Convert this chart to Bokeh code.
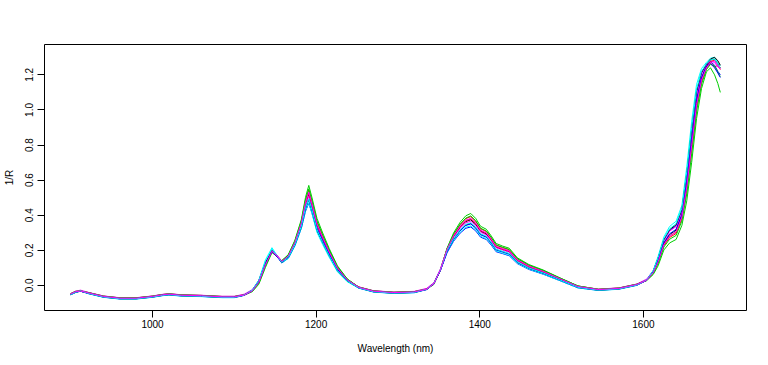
from bokeh.plotting import figure
from bokeh.models import FixedTicker, PrintfTickFormatter, Range1d
from bokeh.embed import file_html
from bokeh.resources import INLINE

wavelength = [900, 906, 912, 922, 940, 960, 980, 1000, 1012, 1020,
              1035, 1060, 1085, 1100, 1112, 1122, 1130, 1138, 1146, 1152,
              1158, 1166, 1174, 1182, 1187, 1191, 1195, 1201, 1208, 1216,
              1226, 1238, 1252, 1270, 1295, 1320, 1335, 1344, 1352, 1360,
              1368, 1376, 1383, 1389, 1395, 1401, 1408, 1414, 1420, 1428,
              1436, 1446, 1460, 1478, 1498, 1520, 1545, 1570, 1592, 1604,
              1612, 1618, 1625, 1632, 1640, 1647, 1653, 1659, 1665, 1671,
              1677, 1682, 1687, 1691, 1694]

spec_01 = [-0.050, -0.037, -0.032, -0.044, -0.064, -0.074, -0.074, -0.064, -0.055, -0.051,
           -0.057, -0.060, -0.066, -0.066, -0.055, -0.030, 0.020, 0.120, 0.196, 0.168,
           0.135, 0.166, 0.241, 0.352, 0.464, 0.520, 0.454, 0.342, 0.266, 0.186,
           0.096, 0.030, -0.012, -0.034, -0.042, -0.038, -0.022, 0.010, 0.090, 0.202,
           0.277, 0.331, 0.364, 0.374, 0.349, 0.308, 0.293, 0.258, 0.217, 0.204,
           0.192, 0.142, 0.106, 0.076, 0.036, -0.008, -0.025, -0.018, 0.004, 0.030,
           0.075, 0.140, 0.240, 0.290, 0.315, 0.400, 0.580, 0.820, 1.050, 1.180,
           1.250, 1.285, 1.290, 1.262, 1.240]
spec_02 = [-0.047, -0.034, -0.031, -0.041, -0.061, -0.071, -0.071, -0.061, -0.052, -0.048,
           -0.054, -0.057, -0.063, -0.063, -0.053, -0.030, 0.017, 0.115, 0.195, 0.170,
           0.140, 0.172, 0.250, 0.365, 0.483, 0.544, 0.475, 0.361, 0.282, 0.198,
           0.105, 0.035, -0.009, -0.031, -0.039, -0.035, -0.020, 0.011, 0.092, 0.209,
           0.289, 0.346, 0.381, 0.392, 0.366, 0.323, 0.307, 0.271, 0.229, 0.215,
           0.203, 0.151, 0.114, 0.083, 0.041, -0.004, -0.022, -0.015, 0.007, 0.031,
           0.072, 0.131, 0.227, 0.273, 0.296, 0.379, 0.543, 0.775, 1.013, 1.159,
           1.236, 1.267, 1.245, 1.255, 1.230]
spec_03 = [-0.048, -0.035, -0.034, -0.042, -0.062, -0.072, -0.072, -0.062, -0.053, -0.049,
           -0.055, -0.058, -0.064, -0.064, -0.056, -0.036, 0.007, 0.102, 0.187, 0.166,
           0.141, 0.176, 0.257, 0.377, 0.502, 0.570, 0.499, 0.382, 0.299, 0.210,
           0.112, 0.037, -0.010, -0.032, -0.040, -0.036, -0.023, 0.006, 0.089, 0.212,
           0.299, 0.360, 0.397, 0.410, 0.382, 0.337, 0.320, 0.282, 0.239, 0.224,
           0.212, 0.157, 0.119, 0.087, 0.043, -0.003, -0.023, -0.016, 0.006, 0.027,
           0.062, 0.112, 0.202, 0.242, 0.262, 0.342, 0.482, 0.702, 0.952, 1.122,
           1.217, 1.240, 1.200, 1.150, 1.100]
spec_04 = [-0.053, -0.040, -0.033, -0.047, -0.067, -0.077, -0.077, -0.067, -0.058, -0.054,
           -0.060, -0.063, -0.069, -0.069, -0.057, -0.029, 0.025, 0.127, 0.195, 0.165,
           0.128, 0.155, 0.226, 0.327, 0.423, 0.468, 0.410, 0.309, 0.241, 0.167,
           0.083, 0.025, -0.015, -0.037, -0.045, -0.041, -0.024, 0.010, 0.087, 0.186,
           0.252, 0.298, 0.326, 0.333, 0.311, 0.275, 0.262, 0.230, 0.192, 0.181,
           0.169, 0.124, 0.091, 0.063, 0.027, -0.014, -0.028, -0.021, 0.001, 0.030,
           0.080, 0.152, 0.257, 0.312, 0.340, 0.427, 0.627, 0.877, 1.097, 1.207,
           1.257, 1.275, 1.255, 1.220, 1.200]
spec_05 = [-0.054, -0.041, -0.032, -0.048, -0.068, -0.078, -0.078, -0.068, -0.059, -0.055,
           -0.061, -0.064, -0.070, -0.070, -0.056, -0.026, 0.031, 0.145, 0.215, 0.172,
           0.128, 0.154, 0.224, 0.327, 0.427, 0.472, 0.410, 0.302, 0.233, 0.160,
           0.078, 0.021, -0.016, -0.038, -0.046, -0.042, -0.023, 0.012, 0.091, 0.191,
           0.256, 0.303, 0.332, 0.339, 0.317, 0.280, 0.266, 0.234, 0.196, 0.184,
           0.172, 0.126, 0.093, 0.064, 0.027, -0.014, -0.029, -0.022, 0.000, 0.031,
           0.086, 0.166, 0.276, 0.336, 0.366, 0.456, 0.676, 0.936, 1.146, 1.236,
           1.271, 1.295, 1.300, 1.270, 1.250]
spec_06 = [-0.046, -0.033, -0.027, -0.040, -0.060, -0.070, -0.070, -0.060, -0.051, -0.047,
           -0.053, -0.056, -0.062, -0.062, -0.050, -0.024, 0.029, 0.130, 0.203, 0.174,
           0.138, 0.167, 0.241, 0.349, 0.456, 0.508, 0.443, 0.334, 0.261, 0.183,
           0.095, 0.033, -0.008, -0.030, -0.038, -0.034, -0.017, 0.016, 0.095, 0.203,
           0.275, 0.326, 0.357, 0.366, 0.342, 0.303, 0.288, 0.254, 0.215, 0.202,
           0.190, 0.141, 0.107, 0.077, 0.038, -0.005, -0.021, -0.014, 0.008, 0.036,
           0.084, 0.153, 0.256, 0.309, 0.336, 0.422, 0.614, 0.860, 1.084, 1.202,
           1.258, 1.280, 1.270, 1.245, 1.235]
spec_07 = [-0.052, -0.039, -0.032, -0.046, -0.066, -0.076, -0.076, -0.066, -0.057, -0.053,
           -0.059, -0.062, -0.068, -0.068, -0.055, -0.027, 0.027, 0.130, 0.200, 0.169,
           0.131, 0.159, 0.231, 0.337, 0.441, 0.490, 0.427, 0.318, 0.246, 0.171,
           0.085, 0.025, -0.014, -0.036, -0.044, -0.040, -0.022, 0.012, 0.091, 0.195,
           0.264, 0.314, 0.344, 0.353, 0.329, 0.291, 0.277, 0.243, 0.204, 0.192,
           0.180, 0.132, 0.098, 0.069, 0.031, -0.011, -0.027, -0.020, 0.002, 0.031,
           0.082, 0.156, 0.262, 0.318, 0.346, 0.434, 0.638, 0.890, 1.108, 1.214,
           1.261, 1.290, 1.300, 1.280, 1.255]
spec_08 = [-0.049, -0.036, -0.032, -0.043, -0.063, -0.073, -0.073, -0.063, -0.054, -0.050,
           -0.056, -0.059, -0.065, -0.065, -0.055, -0.031, 0.018, 0.117, 0.194, 0.168,
           0.137, 0.168, 0.244, 0.356, 0.469, 0.527, 0.460, 0.349, 0.272, 0.191,
           0.099, 0.032, -0.011, -0.033, -0.041, -0.037, -0.022, 0.010, 0.090, 0.203,
           0.280, 0.335, 0.368, 0.379, 0.353, 0.312, 0.297, 0.261, 0.220, 0.207,
           0.195, 0.144, 0.108, 0.078, 0.037, -0.006, -0.024, -0.017, 0.005, 0.030,
           0.073, 0.135, 0.233, 0.281, 0.305, 0.389, 0.561, 0.797, 1.031, 1.169,
           1.240, 1.275, 1.285, 1.260, 1.240]
spec_09 = [-0.047, -0.034, -0.031, -0.041, -0.061, -0.071, -0.071, -0.061, -0.052, -0.048,
           -0.054, -0.057, -0.063, -0.063, -0.054, -0.032, 0.014, 0.111, 0.192, 0.169,
           0.140, 0.173, 0.252, 0.368, 0.487, 0.550, 0.481, 0.367, 0.287, 0.202,
           0.107, 0.036, -0.009, -0.031, -0.039, -0.035, -0.021, 0.009, 0.091, 0.209,
           0.291, 0.349, 0.384, 0.396, 0.369, 0.326, 0.310, 0.273, 0.231, 0.217,
           0.205, 0.152, 0.115, 0.084, 0.042, -0.003, -0.022, -0.015, 0.007, 0.030,
           0.069, 0.125, 0.219, 0.263, 0.285, 0.367, 0.523, 0.751, 0.993, 1.147,
           1.230, 1.260, 1.250, 1.215, 1.190]
spec_10 = [-0.051, -0.038, -0.033, -0.045, -0.065, -0.075, -0.075, -0.065, -0.056, -0.052,
           -0.058, -0.061, -0.067, -0.067, -0.056, -0.030, 0.021, 0.121, 0.193, 0.166,
           0.132, 0.161, 0.234, 0.339, 0.441, 0.491, 0.430, 0.327, 0.256, 0.179,
           0.091, 0.029, -0.013, -0.035, -0.043, -0.039, -0.023, 0.010, 0.087, 0.192,
           0.263, 0.312, 0.342, 0.350, 0.327, 0.289, 0.275, 0.242, 0.203, 0.191,
           0.179, 0.132, 0.098, 0.069, 0.031, -0.011, -0.026, -0.019, 0.003, 0.030,
           0.076, 0.142, 0.243, 0.294, 0.320, 0.405, 0.589, 0.831, 1.059, 1.185,
           1.247, 1.265, 1.240, 1.210, 1.185]
spec_11 = [-0.052, -0.039, -0.031, -0.046, -0.066, -0.076, -0.076, -0.066, -0.057, -0.053,
           -0.059, -0.062, -0.068, -0.068, -0.055, -0.026, 0.029, 0.138, 0.208, 0.170,
           0.132, 0.159, 0.232, 0.339, 0.444, 0.494, 0.429, 0.318, 0.245, 0.170,
           0.085, 0.025, -0.014, -0.036, -0.044, -0.040, -0.022, 0.012, 0.092, 0.197,
           0.266, 0.317, 0.348, 0.357, 0.333, 0.294, 0.280, 0.246, 0.206, 0.194,
           0.182, 0.134, 0.099, 0.070, 0.031, -0.011, -0.027, -0.020, 0.002, 0.032,
           0.084, 0.159, 0.266, 0.323, 0.352, 0.440, 0.648, 0.902, 1.118, 1.220,
           1.264, 1.285, 1.290, 1.260, 1.240]
spec_12 = [-0.049, -0.036, -0.032, -0.043, -0.063, -0.073, -0.073, -0.063, -0.054, -0.050,
           -0.056, -0.059, -0.065, -0.065, -0.055, -0.031, 0.018, 0.117, 0.195, 0.169,
           0.137, 0.168, 0.245, 0.358, 0.473, 0.531, 0.464, 0.351, 0.274, 0.191,
           0.100, 0.032, -0.011, -0.033, -0.041, -0.037, -0.022, 0.010, 0.091, 0.205,
           0.283, 0.338, 0.372, 0.382, 0.357, 0.315, 0.299, 0.264, 0.223, 0.209,
           0.197, 0.146, 0.110, 0.079, 0.038, -0.006, -0.024, -0.017, 0.005, 0.030,
           0.073, 0.135, 0.233, 0.281, 0.305, 0.389, 0.561, 0.797, 1.031, 1.169,
           1.240, 1.270, 1.280, 1.250, 1.235]

spectra = [spec_01, spec_02, spec_03, spec_04, spec_05, spec_06,
           spec_07, spec_08, spec_09, spec_10, spec_11, spec_12]
palette = ["black", "red", "#00CD00", "blue", "cyan", "magenta"]

x_ticks = [1000, 1200, 1400, 1600]
y_ticks = [0.0, 0.2, 0.4, 0.6, 0.8, 1.0, 1.2]

FONT = "Liberation Sans"

p = figure(width=760, height=357, output_backend="svg", toolbar_location=None,
           x_range=Range1d(868, 1726), y_range=Range1d(-0.143, 1.373),
           min_border_left=44, min_border_right=14, min_border_top=44, min_border_bottom=47)

for i, s in enumerate(spectra):
    p.line(wavelength, s, line_color=palette[i % 6], line_width=1)

p.grid.visible = False
p.outline_line_color = "black"
p.outline_line_width = 1
p.background_fill_color = "white"
p.border_fill_color = "white"

for ax in (p.xaxis[0], p.yaxis[0]):
    ax.axis_line_color = None
    ax.major_tick_line_color = "black"
    ax.major_tick_out = 7
    ax.major_tick_in = 0
    ax.minor_tick_line_color = None
    ax.major_label_text_font = FONT
    ax.major_label_text_font_size = "10px"
    ax.major_label_text_color = "black"
    ax.axis_label_text_font = FONT
    ax.axis_label_text_font_size = "10px"
    ax.axis_label_text_font_style = "normal"
    ax.axis_label_text_color = "black"

p.xaxis.ticker = FixedTicker(ticks=x_ticks)
p.xaxis.axis_label = "Wavelength (nm)"
p.xaxis.major_label_standoff = 2
p.xaxis.axis_label_standoff = 12

p.yaxis.ticker = FixedTicker(ticks=y_ticks)
p.yaxis.formatter = PrintfTickFormatter(format="%.1f")
p.yaxis.axis_label = "1/R"
p.yaxis.major_label_orientation = "vertical"
p.yaxis.major_label_standoff = 4
p.yaxis.axis_label_standoff = 8

open("out.html", "w").write(file_html(p, INLINE))
